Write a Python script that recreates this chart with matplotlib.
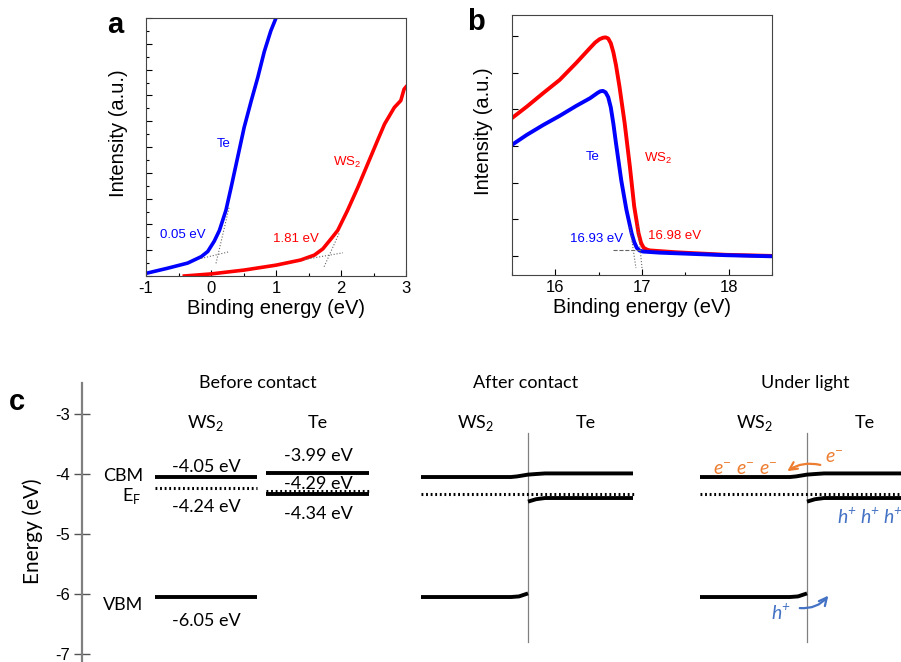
import matplotlib
matplotlib.use("Agg")
import matplotlib.pyplot as plt
from matplotlib.ticker import MultipleLocator, NullFormatter

plt.rcParams['axes.unicode_minus'] = False
plt.rcParams['font.family'] = ['Liberation Sans', 'DejaVu Sans']

# -----------------------------
# panel a : valence band edge (UPS)
# -----------------------------
te_x = [-1.0, -0.97, -0.67, -0.36, -0.15, -0.05, 0.05, 0.13, 0.23, 0.31, 0.41, 0.51, 0.62, 0.72, 0.82, 0.92, 1.0, 1.03]
te_y = [0.01, 0.012, 0.03, 0.05, 0.075, 0.095, 0.135, 0.177, 0.255, 0.344, 0.46, 0.576, 0.68, 0.77, 0.87, 0.95, 1.0, 1.04]
ws_x = [-0.41, 0.0, 0.51, 1.0, 1.38, 1.59, 1.72, 1.85, 1.95, 2.10, 2.26, 2.41, 2.56, 2.67, 2.82, 2.92, 2.97, 3.0]
ws_y = [0.0, 0.008, 0.023, 0.042, 0.062, 0.081, 0.105, 0.145, 0.177, 0.254, 0.344, 0.434, 0.524, 0.589, 0.653, 0.68, 0.724, 0.733]
te_onset = 0.05
ws_onset = 1.81

# -----------------------------
# panel b : secondary electron cutoff
# -----------------------------
cut_x = [15.5, 15.67, 15.86, 16.05, 16.24, 16.4, 16.46, 16.51, 16.55, 16.58, 16.61, 16.64, 16.67, 16.7, 16.74, 16.8,
         16.86, 16.91, 16.96, 16.99, 17.02, 17.06, 17.09, 17.39, 17.97, 18.5]
ws_cut = [3.76, 4.07, 4.44, 4.80, 5.26, 5.67, 5.82, 5.91, 5.95, 5.96, 5.93, 5.80, 5.55, 5.20, 4.62, 3.62,
          2.44, 1.35, 0.62, 0.35, 0.22, 0.17, 0.15, 0.10, 0.03, 0.0]
te_cut_x = [15.5, 15.67, 15.86, 16.05, 16.24, 16.4, 16.49, 16.52, 16.55, 16.58, 16.61, 16.64, 16.67, 16.7, 16.76,
            16.82, 16.88, 16.91, 16.94, 16.97, 17.01, 17.2, 17.97, 18.5]
te_cut = [3.03, 3.30, 3.57, 3.82, 4.09, 4.30, 4.45, 4.49, 4.50, 4.46, 4.33, 4.05, 3.60, 3.07, 2.07,
          1.26, 0.62, 0.38, 0.22, 0.15, 0.12, 0.09, 0.02, -0.01]
te_cutoff = 16.93
ws_cutoff = 16.98

# -----------------------------
# panel c : band alignment (eV)
# -----------------------------
ws2_cbm, ws2_ef, ws2_vbm = -4.05, -4.24, -6.05
te_cbm, te_ef, te_vbm = -3.99, -4.29, -4.34
# after contact (bent bands), x is relative to the interface
bend_x = [-107, -17, -11, 0, 0, 8, 17, 105]
cbm_after = [-4.05, -4.05, -4.04, -4.01, -4.01, -4.0, -3.99, -3.99]
ef_after = -4.33
te_vbm_x = [0, 8, 17, 105]
te_vbm_after = [-4.46, -4.42, -4.40, -4.40]
ws_vbm_x = [-107, -17, -9, 0]
ws_vbm_after = [-6.05, -6.05, -6.04, -5.99]

blue = '#0000ff'
red = '#ff0000'
W, H = 901, 662

fig = plt.figure(figsize=(W / 100, H / 100), dpi=100)

# ---- a ----
ax = fig.add_axes([146 / W, 1 - 276 / H, 260 / W, 258 / H])
ax.plot(ws_x, ws_y, color=red, lw=2.6)
ax.plot(te_x, te_y, color=blue, lw=2.6)
ax.plot([0.077, 0.28], [0.049, 0.267], ls=':', color='#666666', lw=0.8)
ax.plot([-0.15, 0.28], [0.068, 0.094], ls=':', color='#666666', lw=0.8)
ax.plot([1.74, 1.97], [0.036, 0.165], ls=':', color='#666666', lw=0.8)
ax.plot([1.44, 2.03], [0.064, 0.09], ls=':', color='#666666', lw=0.8)
ax.text(0.2, 0.51, 'Te', color=blue, fontsize=9.5, ha='center', va='center')
ax.text(-0.44, 0.158, f'{te_onset:.2f} eV', color=blue, fontsize=9.5, ha='center', va='center')
ax.text(2.1, 0.44, 'WS$_\\mathdefault{2}$', color=red, fontsize=9.5, ha='center', va='center')
ax.text(1.31, 0.145, f'{ws_onset:.2f} eV', color=red, fontsize=9.5, ha='center', va='center')
ax.set_xlim(-1, 3)
ax.set_ylim(0, 1)
ax.xaxis.set_major_locator(MultipleLocator(1))
ax.xaxis.set_minor_locator(MultipleLocator(0.5))
ax.yaxis.set_major_locator(MultipleLocator(0.1))
ax.yaxis.set_minor_locator(MultipleLocator(0.05))
ax.yaxis.set_major_formatter(NullFormatter())
ax.tick_params(direction='in', labelsize=12, length=4, width=0.8)
ax.tick_params(which='minor', direction='in', length=2, width=0.8)
ax.set_xlabel('Binding energy (eV)', fontsize=14.5, labelpad=2)
ax.set_ylabel('Intensity (a.u.)', fontsize=14.5)
ax.yaxis.set_label_coords(-0.07, 0.555)
for s in ax.spines.values():
    s.set_color('#444444')
fig.text(115 / W, 1 - 25 / H, 'a', fontsize=21, fontweight='bold', ha='center', va='center')

# ---- b ----
bx = fig.add_axes([512 / W, 1 - 275 / H, 260 / W, 260 / H])
bx.plot(cut_x, ws_cut, color=red, lw=2.8)
bx.plot(te_cut_x, te_cut, color=blue, lw=2.8)
bx.plot([16.86, 16.93], [0.80, -0.33], ls=':', color='#666666', lw=0.8)
bx.plot([16.95, 17.0], [0.90, -0.33], ls=':', color='#666666', lw=0.8)
bx.plot([16.66, 17.0], [0.15, 0.15], ls='--', color='#666666', lw=0.8)
bx.text(16.43, 2.71, 'Te', color=blue, fontsize=9.5, ha='center', va='center')
bx.text(17.19, 2.67, 'WS$_\\mathdefault{2}$', color=red, fontsize=9.5, ha='center', va='center')
bx.text(16.48, 0.45, f'{te_cutoff:.2f} eV', color=blue, fontsize=9.5, ha='center', va='center')
bx.text(17.37, 0.55, f'{ws_cutoff:.2f} eV', color=red, fontsize=9.5, ha='center', va='center')
bx.set_xlim(15.5, 18.5)
bx.set_ylim(-0.52, 6.57)
bx.xaxis.set_major_locator(MultipleLocator(1))
bx.xaxis.set_minor_locator(MultipleLocator(0.5))
bx.yaxis.set_major_locator(MultipleLocator(1))
bx.yaxis.set_major_formatter(NullFormatter())
bx.tick_params(direction='in', labelsize=12, length=4, width=0.8)
bx.tick_params(which='minor', direction='in', length=2, width=0.8)
bx.set_xlabel('Binding energy (eV)', fontsize=14.5, labelpad=2)
bx.set_ylabel('Intensity (a.u.)', fontsize=14.5)
bx.yaxis.set_label_coords(-0.073, 0.555)
for s in bx.spines.values():
    s.set_color('#444444')
fig.text(476 / W, 1 - 22 / H, 'b', fontsize=21, fontweight='bold', ha='center', va='center')

# ---- c ----
cf = ['Lato', 'DejaVu Sans']
cx = fig.add_axes([82 / W, 0, 819 / W, (H - 383) / H])
cx.set_xlim(82, 901)
cx.set_ylim(-7.133, -2.483)
for k in ['top', 'right', 'bottom']:
    cx.spines[k].set_visible(False)
cx.spines['left'].set_color('#808080')
cx.spines['left'].set_linewidth(1.6)
cx.set_xticks([])
cx.set_yticks([-3, -4, -5, -6, -7])
cx.tick_params(axis='y', direction='inout', length=11, width=1, color='#555555', labelsize=12, pad=3)
cx.set_ylabel('Energy (eV)', fontsize=15, family=cf)
cx.yaxis.set_label_coords(-0.048, 0.47)
fig.text(17 / W, 1 - 402 / H, 'c', fontsize=21, fontweight='bold', ha='center', va='center')

tk = dict(family=cf, fontsize=13, ha='center', va='center')
lw_band = 2.8
dot = (0, (0.6, 0.9))

# before contact
cx.text(258, -2.48, 'Before contact', **tk)
cx.text(206, -3.15, 'WS$_\\mathdefault{2}$', **tk)
cx.text(318, -3.15, 'Te', **tk)
cx.plot([155, 257], [ws2_cbm] * 2, color='k', lw=lw_band, solid_capstyle='butt')
cx.plot([155, 257], [ws2_ef] * 2, color='k', lw=2.2, ls=dot)
cx.plot([155, 257], [ws2_vbm] * 2, color='k', lw=lw_band, solid_capstyle='butt')
cx.plot([266, 369], [te_cbm] * 2, color='k', lw=lw_band, solid_capstyle='butt')
cx.plot([266, 369], [te_vbm] * 2, color='k', lw=lw_band, solid_capstyle='butt')
cx.plot([266, 369], [te_ef] * 2, color='k', lw=2.2, ls=dot)
cx.text(206, -3.88, f'{ws2_cbm:.2f} eV', **tk)
cx.text(206, -4.55, f'{ws2_ef:.2f} eV', **tk)
cx.text(206, -6.45, f'{ws2_vbm:.2f} eV', **tk)
cx.text(318, -3.70, f'{te_cbm:.2f} eV', **tk)
cx.text(318, -4.17, f'{te_ef:.2f} eV', **tk)
cx.text(318, -4.67, f'{te_vbm:.2f} eV', **tk)
cx.text(123, -4.03, 'CBM', **tk)
cx.text(132, -4.37, 'E$_\\mathdefault{F}$', **tk)
cx.text(123, -6.18, 'VBM', **tk)

# after contact and under light
for x0, title in [(528, 'After contact'), (807, 'Under light')]:
    cx.text(x0 - 2, -2.48, title, **tk)
    cx.text(x0 - 52, -3.15, 'WS$_\\mathdefault{2}$', **tk)
    cx.text(x0 + 58, -3.15, 'Te', **tk)
    cx.plot([x0, x0], [-3.32, -6.8], color='#808080', lw=0.9)
    cx.plot([x0 + v for v in bend_x], cbm_after, color='k', lw=lw_band, solid_capstyle='butt', clip_on=False)
    cx.plot([x0 - 107, x0 + 107], [ef_after] * 2, color='k', lw=2.2, ls=dot, clip_on=False)
    cx.plot([x0 + v for v in te_vbm_x], te_vbm_after, color='k', lw=lw_band, solid_capstyle='butt', clip_on=False)
    cx.plot([x0 + v for v in ws_vbm_x], ws_vbm_after, color='k', lw=lw_band, solid_capstyle='butt')

orange = '#ED7D31'
hblue = '#4472C4'
ek = dict(family=cf, fontsize=14, style='italic', ha='center', va='center')
for xe in [722, 745, 768]:
    cx.text(xe, -3.93, 'e$^{\\mathdefault{-}}$', color=orange, **ek)
cx.text(834, -3.73, 'e$^{\\mathdefault{-}}$', color=orange, **ek)
cx.annotate('', xy=(785, -3.98), xytext=(823, -3.86),
            arrowprops=dict(arrowstyle='->', color=orange, lw=1.6,
                            connectionstyle='arc3,rad=0.25', mutation_scale=14))
for xh in [847, 870, 893]:
    cx.text(xh, -4.71, 'h$^{\\mathdefault{+}}$', color=hblue, **ek)
cx.text(781, -6.31, 'h$^{\\mathdefault{+}}$', color=hblue, **ek)
cx.annotate('', xy=(830, -5.99), xytext=(797, -6.23),
            arrowprops=dict(arrowstyle='->', color=hblue, lw=1.6,
                            connectionstyle='arc3,rad=0.3', mutation_scale=14))

fig.savefig('out.png', dpi=100)
